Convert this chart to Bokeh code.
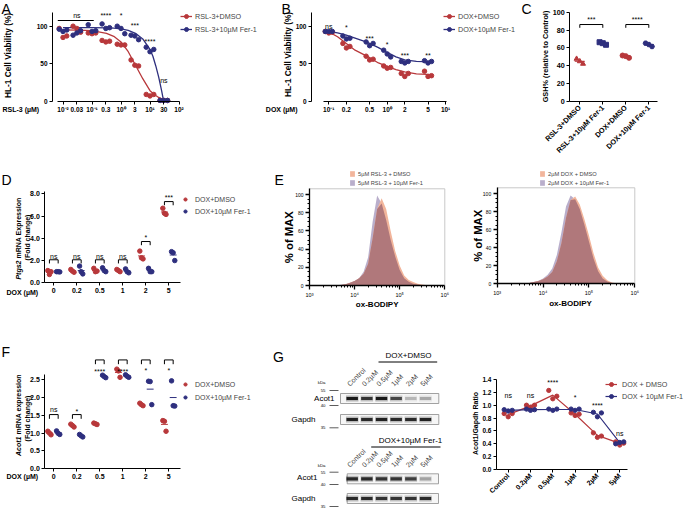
import numpy as np
from math import pi
from bokeh.plotting import figure
from bokeh.models import (Range1d, FixedTicker, Label, Legend, LegendItem,
                          NumeralTickFormatter)
from bokeh.layouts import row, column
from bokeh.embed import file_html
from bokeh.resources import INLINE

FONT = "Liberation Sans"
RED = "#b8383b"
BLUE = "#2e2f7e"
ORANGE = "#f2b59b"
LAVENDER = "#b9aecb"
OVERLAP = "#b0787b"

# ---------------- data ----------------
# A: RSL-3 dose response
a_conc = [0.01, 0.03, 0.1, 0.3, 1, 3, 10, 30]
a_dmso = [[97, 85, 87], [100, 97, 92], [91, 90, 91], [81, 79, 80],
          [76, 75, 75], [55, 48, 47], [9, 7, 9], [1, 1, 1]]
a_fer = [[96, 93, 95], [88, 91, 94], [102, 93, 94], [103, 97, 98],
         [100, 97, 90], [88, 87, 82], [72, 66, 69], [1, 1, 1]]
a_fit_logx = [-2, -1.5, -1, -0.5, -0.25, 0, 0.25, 0.5, 0.75, 1.0, 1.1, 1.2, 1.3, 1.4, 1.47]
a_fit_dmso = [95, 94.8, 94, 90.5, 86.5, 79, 66, 48, 30, 14, 10.5, 7.5, 5, 3, 2]
a_fit_fer = [98, 98, 98, 97.8, 97.4, 96.5, 94.5, 90.5, 83, 69, 60, 47, 32, 14, 0]
a_ticks = [0.01, 0.03, 0.1, 0.3, 1, 3, 10, 30, 100]
a_tick_labels = ["10\u207b\u00b2", "0.03", "10\u207b\u00b9", "0.3", "10\u2070", "3", "10\u00b9", "30", "10\u00b2"]
a_sig = ["****", "*", "***", "****", "ns"]
a_sig_x = [0.3, 1, 3, 10, 30]
a_sig_y = [114, 114, 101, 80, 27.6]

# B: DOX dose response
b_conc = [0.1, 0.2, 0.5, 1, 2, 5]
b_dmso = [[93, 91, 92], [77, 71, 73], [60, 55, 56], [47, 44, 45], [37, 33, 37], [40, 33, 34]]
b_fer = [[93, 93, 93], [87, 83, 84], [79, 74, 77], [68, 63, 59], [53, 51, 53], [54, 51, 53]]
b_fit_logx = [-1, -0.85, -0.7, -0.55, -0.4, -0.3, -0.15, 0, 0.15, 0.3, 0.5, 0.77]
b_fit_dmso = [92.5, 86, 77, 68, 62, 58, 51, 46.5, 42, 39, 36.5, 35.5]
b_fit_fer = [93, 91, 88, 84, 80, 77, 71.5, 65, 59, 55, 53, 52.5]
b_ticks = [0.1, 0.2, 0.5, 1, 2, 5, 10]
b_tick_labels = ["10\u207b\u00b9", "0.2", "0.5", "10\u2070", "2", "5", "10\u00b9"]
b_sig = ["ns", "*", "***", "*", "***", "**"]
b_sig_y = [100, 98, 84, 76, 61, 61]

# C: GSH
c_groups = ["RSL-3+DMSO", "RSL-3+10\u00b5M Fer-1", "DOX+DMSO", "DOX+10\u00b5M Fer-1"]
c_vals = [[47.8, 45, 42.2], [66.4, 65.3, 63.5], [51.5, 50.8, 48.9], [65.3, 63.8, 61.6]]
c_sig = ["***", "****"]

# D, F: qPCR
dox_levels = ["0", "0.2", "0.5", "1", "2", "5"]
d_dmso = [[1.1, 0.75, 1.0], [1.2, 1.05, 0.95], [1.3, 1.0, 1.05], [1.2, 1.1, 1.0],
          [2.85, 2.25, 2.15], [6.7, 6.25, 6.15]]
d_fer = [[1.0, 1.0, 0.98], [1.5, 1.0, 0.8], [1.35, 1.1, 1.0], [1.25, 1.0, 0.9],
         [1.3, 1.0, 1.0], [2.8, 2.7, 2.0]]
d_sig = ["ns", "ns", "ns", "ns", "*", "***"]
d_bracket_y = [2.07, 2.07, 2.07, 2.07, 3.71, 7.3]
d_sig_y = [2.4, 2.4, 2.4, 2.4, 4.05, 7.7]

f_dmso = [[1.05, 1.0, 0.95], [1.25, 1.21, 1.17], [1.28, 1.26, 1.24], [2.8, 2.75, 2.57],
          [1.84, 1.8, 1.77], [1.35, 1.33, 1.05]]
f_fer = [[1.06, 0.99, 0.96], [0.96, 0.92, 0.89], [2.63, 2.59, 2.56], [2.64, 2.6, 2.57],
         [2.46, 2.45, 1.8], [2.47, 1.77, 1.76]]
f_sig = ["ns", "*", "****", "****", "*", "*"]
f_bracket_y = [1.52, 1.52, 3.06, 3.06, 3.06, 3.06]
f_sig_y = [1.65, 1.62, 2.74, 2.74, 2.76, 2.76]

# E: flow histograms (log10 intensity grid, % of max)
e_logx = [3.5, 3.6, 3.7, 3.8, 3.9, 4.0, 4.1, 4.2, 4.3, 4.4, 4.5, 4.6,
          4.7, 4.8, 4.9, 5.0, 5.1, 5.2, 5.3, 5.4, 5.5, 5.6, 5.7, 5.8]
e1_fer = [0, 0.3, 0.8, 1.5, 3, 5, 8, 15, 31, 70, 99, 90, 72, 50, 32, 17, 8, 4, 2, 1, 0.4, 0, 0, 0]
e1_dmso = [0, 0.3, 0.6, 1.5, 3, 5, 8, 13, 24, 52, 84, 96, 84, 60, 38, 22, 11, 6, 3.8, 2, 1, 0.3, 0, 0]
e2_fer = [0, 0.3, 1, 2, 3.5, 6, 10, 17, 32, 57, 86, 98, 94, 83, 66, 47, 28, 14, 6, 2.5, 0.8, 0.2, 0, 0]
e2_dmso = [0, 0.3, 0.8, 2, 3, 5, 8, 13, 25, 45, 73, 93, 97, 88, 72, 54, 34, 18, 9, 4, 1.5, 0.5, 0, 0]
e_ticks = [1e3, 1e4, 1e5, 1e6]
e_tick_labels = ["10\u00b3", "10\u2074", "10\u2075", "10\u2076"]

# G: western blot + quantification
g_levels = ["Control", "0.2\u00b5M", "0.5\u00b5M", "1\u00b5M", "2\u00b5M", "5\u00b5M"]
g_dmso = [[0.87, 0.82, 0.87], [1.0, 0.97, 1.0], [1.23, 1.10, 1.14], [0.88, 0.84, 0.86],
          [0.57, 0.50, 0.52], [0.43, 0.38, 0.41]]
g_fer = [[0.93, 0.91, 0.92], [0.94, 0.92, 0.93], [0.94, 0.92, 0.94], [0.94, 0.92, 0.94],
         [0.89, 0.82, 0.88], [0.40, 0.42, 0.43]]
g_sig = ["ns", "ns", "****", "*", "****", "ns"]
g_sig_y = [1.15, 1.15, 1.36, 1.12, 1.0, 0.565]
blot_dmso_acot1 = [0.95, 0.8, 0.95, 0.7, 0.22, 0.28]
blot_dmso_gapdh = [0.9, 0.85, 0.9, 0.85, 0.85, 0.9]
blot_fer_acot1 = [0.85, 0.85, 0.8, 0.8, 0.75, 0.3]
blot_fer_gapdh = [0.85, 0.85, 0.8, 0.8, 0.8, 0.85]


# ---------------- helpers ----------------
def axis_map(s0, v0, s1, v1, log=False):
    if log:
        v0, v1 = np.log10(v0), np.log10(v1)
    k = (v1 - v0) / (s1 - s0)

    def f(s):
        v = v0 + (s - s0) * k
        return float(10 ** v) if log else float(v)
    return f


def make_fig(box, fx, fy, xlog=False, axes=True):
    x0, y0, x1, y1 = box
    kw = {}
    if not axes:
        kw = dict(x_axis_location=None, y_axis_location=None)
    p = figure(width=x1 - x0, height=y1 - y0,
               x_range=Range1d(fx(x0), fx(x1)), y_range=Range1d(fy(y1), fy(y0)),
               x_axis_type="log" if xlog else "linear",
               output_backend="svg", toolbar_location=None,
               min_border_left=0, min_border_right=0, min_border_top=0, min_border_bottom=0,
               **kw)
    p.outline_line_color = None
    p.grid.visible = False
    p.background_fill_color = "white"
    p.border_fill_color = "white"
    return p, {"box": box, "fx": fx, "fy": fy}


def style(bold, italic):
    if bold and italic:
        return "bold italic"
    if bold:
        return "bold"
    if italic:
        return "italic"
    return "normal"


def stext(p, g, sx, sy, s, size, bold=False, italic=False, align="center",
          baseline="middle", angle=0.0, color="black"):
    p.add_layout(Label(x=g["fx"](sx), y=g["fy"](sy), text=s, text_font=FONT,
                       text_font_size=f"{size}px", text_font_style=style(bold, italic),
                       text_align=align, text_baseline=baseline, angle=angle,
                       text_color=color))


def dtext(p, x, y, s, size=7, bold=False, align="center", baseline="middle"):
    p.add_layout(Label(x=x, y=y, text=s, text_font=FONT, text_font_size=f"{size}px",
                       text_font_style=style(bold, False), text_align=align,
                       text_baseline=baseline, text_color="black"))


def base_axes(p, g, ax_sx, ax_sy, size, bold=True, tick_out=3, lw=1.0):
    p.yaxis.fixed_location = g["fx"](ax_sx)
    p.xaxis.fixed_location = g["fy"](ax_sy)
    p.axis.axis_line_color = "black"
    p.axis.axis_line_width = lw
    p.axis.major_tick_line_color = "black"
    p.axis.major_tick_line_width = lw
    p.axis.major_tick_in = 0
    p.axis.major_tick_out = tick_out
    p.axis.minor_tick_line_color = None
    p.axis.major_label_text_font = FONT
    p.axis.major_label_text_font_size = f"{size}px"
    p.axis.major_label_text_font_style = "bold" if bold else "normal"
    p.axis.major_label_text_color = "black"
    p.axis.major_label_standoff = 2


def add_legend(p, g, items, sx_left, sy_first, row_h, pitch, size, glyph_w, standoff):
    x0, y0, x1, y1 = g["box"]
    n = len(items)
    top = sy_first - row_h / 2
    bottom = top + n * row_h + (n - 1) * (pitch - row_h)
    leg = Legend(items=items, location=(sx_left - x0, y1 - bottom), orientation="vertical",
                 padding=0, margin=0, spacing=pitch - row_h, glyph_width=glyph_w,
                 glyph_height=row_h, label_height=row_h, label_standoff=standoff,
                 label_text_font=FONT, label_text_font_size=f"{size}px",
                 label_text_baseline="middle",
                 border_line_color=None, background_fill_alpha=0)
    p.add_layout(leg)


def rep_points(xs, reps, offsets, log=False):
    px, py = [], []
    for x, vals in zip(xs, reps):
        for o, v in zip(offsets, vals):
            px.append(x * 10 ** o if log else x + o)
            py.append(v)
    return px, py


def bracket(p, x0, x1, ytop, yleg):
    p.line([x0, x0, x1, x1], [yleg, ytop, ytop, yleg], line_color="black", line_width=1)


def ylabel_mixed(p, g, sx, junction_sy, italic_part, rest, size):
    stext(p, g, sx, junction_sy, italic_part, size, bold=True, italic=True, align="right",
          angle=pi / 2)
    stext(p, g, sx, junction_sy - 2, rest, size, bold=True, align="left", angle=pi / 2)


LETTER = 14

# ---------------- Panel A ----------------
fxA = axis_map(120.5, 1, 149.5, 10, log=True)
fyA = axis_map(100.7, 0, 25.7, 100)
pA, gA = make_fig((0, 0, 262, 170), fxA, fyA, xlog=True)
base_axes(pA, gA, 52, 100.7, 6.5)
pA.xaxis.ticker = FixedTicker(ticks=a_ticks)
pA.xaxis.major_label_overrides = dict(zip(a_ticks, a_tick_labels))
pA.xaxis.bounds = (0.0063, 108)
pA.yaxis.ticker = FixedTicker(ticks=[0, 50, 100])
pA.yaxis.bounds = (0, 118)
la1 = pA.line(10 ** np.array(a_fit_logx), a_fit_dmso, line_color=RED, line_width=1.3)
la2 = pA.line(10 ** np.array(a_fit_logx), a_fit_fer, line_color=BLUE, line_width=1.3)
x, y = rep_points(a_conc, a_dmso, [-0.13, 0, 0.13], log=True)
sa1 = pA.scatter(x, y, size=4.5, color=RED)
x, y = rep_points(a_conc, a_fer, [-0.13, 0, 0.13], log=True)
sa2 = pA.scatter(x, y, size=4.5, color=BLUE)
pA.line([0.0066, 0.115], [107.6, 107.6], line_color="black", line_width=1)
dtext(pA, 0.03, 114.5, "ns")
for s, xv, yv in zip(a_sig, a_sig_x, a_sig_y):
    dtext(pA, xv, yv, s)
add_legend(pA, gA, [LegendItem(label="RSL-3+DMSO", renderers=[la1, sa1]),
                    LegendItem(label="RSL-3+10\u00b5M Fer-1", renderers=[la2, sa2])],
           180, 16, 10, 13, 7.2, 12, 3)
stext(pA, gA, 7.5, 55, "HL-1 Cell Viability (%)", 8.3, bold=True, angle=pi / 2)
stext(pA, gA, 2, 109, "RSL-3 (\u00b5M)", 7, bold=True, align="left")
stext(pA, gA, 1, 0, "A", LETTER, align="left", baseline="top")

# ---------------- Panel B ----------------
fxB = axis_map(386.7, 1, 445.1, 10, log=True)
pB, gB = make_fig((262, 0, 520, 170), fxB, fyA, xlog=True)
base_axes(pB, gB, 311, 100.7, 6.5)
pB.xaxis.ticker = FixedTicker(ticks=b_ticks)
pB.xaxis.major_label_overrides = dict(zip(b_ticks, b_tick_labels))
pB.xaxis.bounds = (0.082, 10.3)
pB.yaxis.ticker = FixedTicker(ticks=[0, 50, 100])
pB.yaxis.bounds = (0, 118)
lb1 = pB.line(10 ** np.array(b_fit_logx), b_fit_dmso, line_color=RED, line_width=1.3)
lb2 = pB.line(10 ** np.array(b_fit_logx), b_fit_fer, line_color=BLUE, line_width=1.3)
x, y = rep_points(b_conc, b_dmso, [-0.06, 0, 0.06], log=True)
sb1 = pB.scatter(x, y, size=4.5, color=RED)
x, y = rep_points(b_conc, b_fer, [-0.06, 0, 0.06], log=True)
sb2 = pB.scatter(x, y, size=4.5, color=BLUE)
for s, xv, yv in zip(b_sig, b_conc, b_sig_y):
    dtext(pB, xv, yv, s)
add_legend(pB, gB, [LegendItem(label="DOX+DMSO", renderers=[lb1, sb1]),
                    LegendItem(label="DOX+10\u00b5M Fer-1", renderers=[lb2, sb2])],
           443, 16, 10, 13, 7.2, 12, 3)
stext(pB, gB, 287.5, 54, "HL-1 Cell Viability (%)", 8.3, bold=True, angle=pi / 2)
stext(pB, gB, 297, 109, "DOX (\u00b5M)", 7, bold=True, align="right")
stext(pB, gB, 281, 0, "B", LETTER, align="left", baseline="top")

# ---------------- Panel C ----------------
fxC = axis_map(579.3, 0, 602.3, 1)
fyC = axis_map(101, 0, 11.7, 100)
pC, gC = make_fig((520, 0, 685, 170), fxC, fyC)
base_axes(pC, gC, 569.3, 101, 7.2)
pC.xaxis.ticker = FixedTicker(ticks=[0, 1, 2, 3])
pC.xaxis.major_label_overrides = dict(zip([0, 1, 2, 3], c_groups))
pC.xaxis.major_label_orientation = pi / 4
pC.xaxis.major_label_text_font_size = "7.3px"
pC.xaxis.bounds = (fxC(569.3), fxC(656.7))
pC.yaxis.ticker = FixedTicker(ticks=[0, 20, 40, 60, 80, 100])
pC.yaxis.bounds = (0, 100)
c_markers = ["triangle", "square", "circle", "hex"]
c_colors = [RED, BLUE, RED, BLUE]
for i, vals in enumerate(c_vals):
    pC.scatter([i - 0.14, i, i + 0.14], vals, size=5, marker=c_markers[i], color=c_colors[i])
    m = float(np.mean(vals))
    pC.segment(i - 0.22, m, i + 0.22, m, line_color=c_colors[i], line_width=1)
for k, s in enumerate(c_sig):
    bracket(pC, 2 * k, 2 * k + 1, 86.2, 82.5)
    dtext(pC, 2 * k + 0.5, 91.5, s)
stext(pC, gC, 545, 56, "GSH% (relative to Control)", 7.3, bold=True, angle=pi / 2)
stext(pC, gC, 521, 0, "C", LETTER, align="left", baseline="top")

# ---------------- Panel D ----------------
fxD = axis_map(53.3, 0, 76.3, 1)
fyD = axis_map(282.3, 0, 193.3, 8)
pD, gD = make_fig((0, 170, 255, 340), fxD, fyD)
base_axes(pD, gD, 44.3, 282.3, 7)
pD.xaxis.ticker = FixedTicker(ticks=list(range(6)))
pD.xaxis.major_label_overrides = dict(zip(range(6), dox_levels))
pD.xaxis.bounds = (fxD(44.3), fxD(180))
pD.yaxis.ticker = FixedTicker(ticks=[0, 2, 4, 6, 8])
pD.yaxis.formatter = NumeralTickFormatter(format="0.0")
pD.yaxis.bounds = (0, 8.2)
cats = list(range(6))
x, y = rep_points([c - 0.19 for c in cats], d_dmso, [-0.07, 0, 0.07])
sd1 = pD.scatter(x, y, size=4.5, color=RED)
x, y = rep_points([c + 0.19 for c in cats], d_fer, [-0.07, 0, 0.07])
sd2 = pD.scatter(x, y, size=4.5, color=BLUE)
for i in cats:
    for off, vals, col in [(-0.19, d_dmso[i], RED), (0.19, d_fer[i], BLUE)]:
        m = float(np.mean(vals))
        pD.segment(i + off - 0.15, m, i + off + 0.15, m, line_color=col, line_width=1)
    bracket(pD, i - 0.19, i + 0.19, d_bracket_y[i], d_bracket_y[i] - 0.33)
    dtext(pD, i, d_sig_y[i], d_sig[i])
add_legend(pD, gD, [LegendItem(label="DOX+DMSO", renderers=[sd1]),
                    LegendItem(label="DOX+10\u00b5M Fer-1", renderers=[sd2])],
           181, 199, 10, 12, 7, 8, 6)
ylabel_mixed(pD, gD, 17.5, 260, "Ptgs2", "mRNA Expression", 7)
stext(pD, gD, 26.5, 237, "(Fold change)", 7, bold=True, angle=pi / 2)
stext(pD, gD, 6, 291.7, "DOX (\u00b5M)", 7, bold=True, align="left")
stext(pD, gD, 1, 171, "D", LETTER, align="left", baseline="top")


# ---------------- Panel E ----------------
def hist_panel(box, ax_x0, ax_x1, ax_y0, ax_y100, top_sy, fer, dmso, lab_dmso, lab_fer,
               leg_x, ylab_x, xlab_x, xlab_y):
    fx = axis_map(ax_x0, 1e3, ax_x1, 1e6, log=True)
    fy = axis_map(ax_y0, 0, ax_y100, 100)
    p, g = make_fig(box, fx, fy, xlog=True)
    base_axes(p, g, ax_x0, ax_y0, 5, bold=False, tick_out=4, lw=1.3)
    ytop = fy(top_sy)
    p.xaxis.bounds = (1e3, 1e6)
    p.yaxis.bounds = (0, ytop)
    p.xaxis.ticker = FixedTicker(ticks=e_ticks,
                                 minor_ticks=[k * 10 ** e for e in (3, 4, 5) for k in range(2, 10)])
    p.xaxis.major_label_overrides = dict(zip([1000, 10000, 100000, 1000000], e_tick_labels))
    p.xaxis.major_label_text_font_size = "5.5px"
    p.yaxis.ticker = FixedTicker(ticks=[0, 20, 40, 60, 80, 100],
                                 minor_ticks=[v for v in range(0, 101, 5)])
    p.axis.minor_tick_line_color = "black"
    p.axis.minor_tick_in = 0
    p.axis.minor_tick_out = 2
    p.line([1e3, 1e6, 1e6], [ytop, ytop, 0], line_color="#c8c8c8", line_width=1)
    xs = 10 ** np.array(e_logx)
    r_f = p.varea(x=xs, y1=0, y2=fer, fill_color=LAVENDER)
    r_d = p.varea(x=xs, y1=0, y2=dmso, fill_color=ORANGE)
    p.varea(x=xs, y1=0, y2=np.minimum(np.array(fer), np.array(dmso)), fill_color=OVERLAP)
    add_legend(p, g, [LegendItem(label=lab_dmso, renderers=[r_d]),
                      LegendItem(label=lab_fer, renderers=[r_f])],
               leg_x, 173.5, 7, 9, 5.7, 6, 3)
    stext(p, g, ylab_x, (top_sy + ax_y0) / 2, "% of MAX", 11.3, bold=True, angle=pi / 2)
    stext(p, g, xlab_x, xlab_y, "ox-BODIPY", 8, bold=True)
    return p, g


pE1, gE1 = hist_panel((255, 170, 460, 340), 309, 444.3, 285, 194, 188.3, e1_fer, e1_dmso,
                      "5\u00b5M RSL-3 + DMSO", "5\u00b5M RSL-3 + 10\u00b5M Fer-1", 349, 288.3, 376.7, 304)
stext(pE1, gE1, 274, 171, "E", LETTER, align="left", baseline="top")
pE2, gE2 = hist_panel((460, 170, 685, 340), 496.7, 634.3, 283.3, 193.3, 187.3, e2_fer, e2_dmso,
                      "2\u00b5M DOX + DMSO", "2\u00b5M DOX + 10\u00b5M Fer-1", 539, 477.7, 570, 303)

# ---------------- Panel F ----------------
fyF = axis_map(468, 0, 379.3, 2.5)
pF, gF = make_fig((0, 340, 260, 509), fxD, fyF)
base_axes(pF, gF, 44.3, 468, 7)
pF.xaxis.ticker = FixedTicker(ticks=list(range(6)))
pF.xaxis.major_label_overrides = dict(zip(range(6), dox_levels))
pF.xaxis.bounds = (fxD(44.3), fxD(180))
pF.yaxis.ticker = FixedTicker(ticks=[0, 0.5, 1.0, 1.5, 2.0, 2.5])
pF.yaxis.formatter = NumeralTickFormatter(format="0.0")
pF.yaxis.bounds = (0, 2.65)
x, y = rep_points([c - 0.19 for c in cats], f_dmso, [-0.07, 0, 0.07])
sf1 = pF.scatter(x, y, size=4.5, color=RED)
x, y = rep_points([c + 0.19 for c in cats], f_fer, [-0.07, 0, 0.07])
sf2 = pF.scatter(x, y, size=4.5, color=BLUE)
for i in cats:
    for off, vals, col in [(-0.19, f_dmso[i], RED), (0.19, f_fer[i], BLUE)]:
        m = float(np.mean(vals))
        pF.segment(i + off - 0.15, m, i + off + 0.15, m, line_color=col, line_width=1)
    bracket(pF, i - 0.19, i + 0.19, f_bracket_y[i], f_bracket_y[i] - 0.12)
    dtext(pF, i, f_sig_y[i], f_sig[i])
add_legend(pF, gF, [LegendItem(label="DOX+DMSO", renderers=[sf1]),
                    LegendItem(label="DOX+10\u00b5M Fer-1", renderers=[sf2])],
           181, 384.3, 10, 13, 7, 8, 6)
ylabel_mixed(pF, gF, 17.5, 436, "Acot1", "mRNA expression", 7)
stext(pF, gF, 26.5, 418, "(Fold change)", 7, bold=True, angle=pi / 2)
stext(pF, gF, 6, 475.7, "DOX (\u00b5M)", 7, bold=True, align="left")
stext(pF, gF, 1, 343, "F", LETTER, align="left", baseline="top")

# ---------------- Panel G: blots ----------------
fxGb = axis_map(351.7, 0, 366.36, 1)
fyGb = axis_map(0, 0, 1, 1)
pGb, gGb = make_fig((260, 340, 450, 509), fxGb, fyGb, axes=False)
lanes = list(range(6))


def blot_row(ints, yc, left, right):
    pGb.quad(left=fxGb(left), right=fxGb(right), top=yc - 5, bottom=yc + 5,
             fill_color="#f6f6f6", line_color="#8a8a8a", line_width=0.8)
    pGb.rect(x=lanes, y=yc, width=0.85, height=6, fill_color="#333333",
             fill_alpha=[0.35 * v for v in ints], line_color=None)
    pGb.rect(x=lanes, y=yc, width=0.78, height=3.2, fill_color="#111111",
             fill_alpha=ints, line_color=None)


blot_row(blot_dmso_acot1, 398, 340, 438.3)
blot_row(blot_dmso_gapdh, 419, 340, 438.3)
blot_row(blot_fer_acot1, 478.3, 346.7, 438)
blot_row(blot_fer_gapdh, 498, 346.7, 438)


def marker(sx, sy, txt):
    stext(pGb, gGb, sx, sy, txt, 4.3, align="right")
    pGb.line([fxGb(sx + 4), fxGb(sx + 13)], [sy, sy], line_color="#333333", line_width=0.8)


stext(pGb, gGb, 278, 356, "G", LETTER)
for top_y, head, cx, ul0, ul1, lab_y, ks in [
        (355, "DOX+DMSO", 408, 378, 436.7, 387, [(381.7, "kDa"), (390, "55"), (405, "40"), (427.3, "35")]),
        (440, "DOX+10\u00b5M Fer-1", 410, 370.7, 440, 468, [(465, "kDa"), (471.7, "55"), (484, "40"), (506, "35")])]:
    stext(pGb, gGb, cx, top_y, head, 8)
    pGb.line([fxGb(ul0), fxGb(ul1)], [top_y + 6.5, top_y + 6.5], line_color="black", line_width=1)
    for i, lab in enumerate(g_levels):
        pGb.add_layout(Label(x=i - 0.1, y=lab_y, text=lab, text_font=FONT, text_font_size="7px",
                             text_align="left", text_baseline="bottom", angle=pi / 4))
    for ky, kt in ks:
        if kt == "kDa":
            stext(pGb, gGb, 325, ky, kt, 4.3, align="right")
        else:
            marker(325, ky, kt)
stext(pGb, gGb, 334, 398.3, "Acot1", 8, align="right")
stext(pGb, gGb, 315, 419.3, "Gapdh", 8, align="right")
stext(pGb, gGb, 317, 477.3, "Acot1", 8, align="right")
stext(pGb, gGb, 315, 497.5, "Gapdh", 8, align="right")

# ---------------- Panel G: quantification ----------------
fxG = axis_map(507.7, 0, 530, 1)
fyG = axis_map(469, 0, 379, 1.4)
pG, gG = make_fig((450, 340, 685, 509), fxG, fyG)
base_axes(pG, gG, 496, 469, 6.5)
pG.xaxis.ticker = FixedTicker(ticks=list(range(6)))
pG.xaxis.major_label_overrides = dict(zip(range(6), g_levels))
pG.xaxis.major_label_orientation = pi / 4
pG.xaxis.major_label_text_font_size = "7px"
pG.xaxis.bounds = (fxG(496), fxG(626.7))
pG.yaxis.ticker = FixedTicker(ticks=[0, 0.2, 0.4, 0.6, 0.8, 1.0, 1.2, 1.4])
pG.yaxis.formatter = NumeralTickFormatter(format="0.0")
pG.yaxis.bounds = (0, 1.4)
lg1 = pG.line(cats, [float(np.mean(v)) for v in g_dmso], line_color=RED, line_width=1.2)
lg2 = pG.line(cats, [float(np.mean(v)) for v in g_fer], line_color=BLUE, line_width=1.2)
x, y = rep_points(cats, g_dmso, [-0.18, 0, 0.18])
sg1 = pG.scatter(x, y, size=4.3, color=RED)
x, y = rep_points(cats, g_fer, [-0.18, 0, 0.18])
sg2 = pG.scatter(x, y, size=4.3, color=BLUE)
for i in cats:
    dtext(pG, i, g_sig_y[i], g_sig[i])
add_legend(pG, gG, [LegendItem(label="DOX + DMSO", renderers=[lg1, sg1]),
                    LegendItem(label="DOX + 10\u00b5M Fer-1", renderers=[lg2, sg2])],
           605, 384.3, 10, 12, 7.2, 12, 5)
stext(pG, gG, 475, 423, "Acot1/Gapdh Ratio", 7, bold=True, angle=pi / 2)

layout = column(row(pA, pB, pC), row(pD, pE1, pE2), row(pF, pGb, pG))
open("out.html", "w").write(file_html(layout, INLINE))
